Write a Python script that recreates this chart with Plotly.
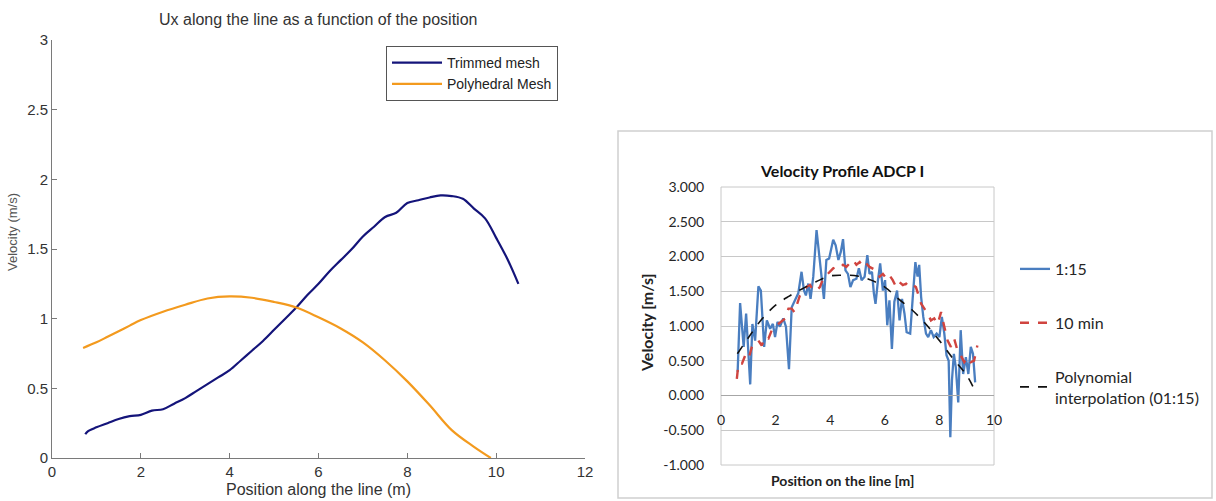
import plotly.graph_objects as go

# ---- Left panel: Ux along the line (CFD meshes) ----
trim_x = [0.75, 0.8, 1.0, 1.25, 1.5, 1.75, 2.0, 2.25, 2.5, 2.75, 3.0, 3.25, 3.5, 3.75,
          4.0, 4.25, 4.5, 4.75, 5.0, 5.25, 5.5, 5.75, 6.0, 6.25, 6.5, 6.75, 7.0, 7.25,
          7.5, 7.75, 8.0, 8.25, 8.5, 8.75, 9.0, 9.25, 9.5, 9.75, 10.0, 10.25, 10.5]
trim_u = [0.17, 0.19, 0.22, 0.25, 0.28, 0.30, 0.31, 0.34, 0.35, 0.39, 0.43, 0.48, 0.53, 0.58,
          0.63, 0.70, 0.77, 0.84, 0.92, 1.00, 1.08, 1.17, 1.25, 1.34, 1.42, 1.50, 1.59, 1.66,
          1.73, 1.76, 1.83, 1.85, 1.87, 1.885, 1.88, 1.86, 1.79, 1.72, 1.58, 1.43, 1.25]

poly_x = [0.7, 1.0, 1.25, 1.5, 1.75, 2.0, 2.5, 3.0, 3.5, 4.0, 4.5, 5.0, 5.5, 6.0, 6.5,
          7.0, 7.5, 8.0, 8.5, 9.0, 9.5, 9.88]
poly_u = [0.79, 0.83, 0.87, 0.91, 0.95, 0.99, 1.05, 1.10, 1.145, 1.16, 1.15, 1.12, 1.08,
          1.01, 0.93, 0.83, 0.70, 0.55, 0.38, 0.20, 0.08, 0.0]

# ---- Right panel: ADCP velocity profile ----
adcp_x = [0.61, 0.70, 0.83, 0.92, 1.07, 1.15, 1.25, 1.37, 1.46, 1.58, 1.68, 1.80, 1.90,
          1.98, 2.07, 2.16, 2.28, 2.38, 2.49, 2.59, 2.71, 2.83, 2.95, 3.04, 3.11, 3.20,
          3.28, 3.38, 3.50, 3.60, 3.68, 3.77, 3.86, 3.96, 4.11, 4.20, 4.30, 4.39, 4.47,
          4.56, 4.65, 4.74, 4.84, 4.96, 5.05, 5.15, 5.26, 5.36, 5.44, 5.53, 5.60, 5.66,
          5.75, 5.83, 5.93, 6.01, 6.09, 6.17, 6.26, 6.35, 6.45, 6.54, 6.63, 6.72, 6.80,
          6.93, 7.02, 7.12, 7.20, 7.26, 7.33, 7.41, 7.51, 7.59, 7.69, 7.79, 7.90, 8.00,
          8.09, 8.18, 8.26, 8.34, 8.40, 8.46, 8.53, 8.60, 8.69, 8.78, 8.87, 8.97, 9.06,
          9.15, 9.23, 9.31]
adcp_115 = [0.34, 1.33, 0.70, 1.18, 0.16, 1.03, 0.79, 1.57, 1.51, 0.70, 1.08, 0.96, 1.03,
            0.84, 1.06, 0.99, 1.11, 0.99, 0.38, 1.27, 1.37, 1.47, 1.78, 1.51, 1.44, 1.61,
            1.39, 1.71, 2.38, 2.00, 1.66, 1.39, 1.95, 1.97, 2.24, 2.16, 1.95, 2.07, 2.25,
            1.80, 1.75, 1.56, 1.66, 1.68, 1.83, 1.66, 1.71, 2.02, 1.75, 1.78, 1.47, 1.32,
            1.66, 1.90, 1.51, 1.66, 1.01, 1.37, 0.67, 1.35, 1.51, 1.08, 1.39, 1.18, 0.91,
            0.89, 1.39, 1.92, 1.71, 1.88, 1.42, 1.13, 0.89, 0.84, 0.94, 0.84, 0.89, 0.84,
            1.13, 0.89, 0.58, 0.50, -0.60, 0.22, 0.60, 0.41, -0.10, 0.94, 0.31, 0.55, 0.31,
            0.70, 0.60, 0.19]

avg_x = [0.58, 0.64, 0.77, 0.89, 1.01, 1.13, 1.25, 1.37, 1.49, 1.62, 1.74, 1.86, 1.98,
         2.10, 2.22, 2.35, 2.47, 2.59, 2.69, 2.80, 2.89, 3.01, 3.13, 3.26, 3.38, 3.50,
         3.62, 3.74, 3.86, 3.99, 4.11, 4.23, 4.35, 4.47, 4.59, 4.71, 4.84, 4.96, 5.08,
         5.20, 5.32, 5.44, 5.56, 5.69, 5.81, 5.93, 6.06, 6.17, 6.29, 6.42, 6.54, 6.66,
         6.78, 6.90, 7.02, 7.14, 7.24, 7.33, 7.45, 7.57, 7.69, 7.81, 7.94, 8.06, 8.18,
         8.30, 8.42, 8.54, 8.66, 8.78, 8.91, 9.03, 9.15, 9.27, 9.39]
avg_10min = [0.24, 0.46, 0.46, 0.58, 0.53, 0.70, 0.75, 0.79, 0.72, 0.84, 0.82, 0.94, 0.99,
             1.03, 1.08, 1.11, 1.25, 1.25, 1.20, 1.32, 1.44, 1.51, 1.56, 1.59, 1.51, 1.51,
             1.56, 1.68, 1.73, 1.78, 1.83, 1.85, 1.83, 1.88, 1.85, 1.90, 1.95, 1.88, 1.92,
             1.85, 1.90, 1.85, 1.83, 1.80, 1.71, 1.75, 1.68, 1.73, 1.66, 1.56, 1.63, 1.59,
             1.61, 1.56, 1.59, 1.56, 1.44, 1.32, 1.25, 1.18, 1.08, 1.11, 1.03, 1.20, 0.99,
             0.79, 0.70, 0.82, 0.65, 0.58, 0.48, 0.55, 0.48, 0.50, 0.72]

fit_x = [0.6, 1.0, 1.5, 2.0, 2.5, 3.0, 3.5, 4.0, 4.5, 5.0, 5.5, 6.0, 6.5, 7.0, 7.5, 8.0,
         8.5, 9.0, 9.3]
fit_u = [0.60, 0.83, 1.10, 1.30, 1.43, 1.54, 1.64, 1.72, 1.73, 1.72, 1.66, 1.56, 1.39,
         1.23, 1.03, 0.79, 0.53, 0.29, 0.07]

# velocity ticks of the ADCP chart, written with a plain hyphen for negatives
adcp_vel_ticks = [-1.0, -0.5, 0.0, 0.5, 1.0, 1.5, 2.0, 2.5, 3.0]
adcp_vel_labels = ["-1.000", "-0.500", "0.000", "0.500", "1.000", "1.500", "2.000",
                   "2.500", "3.000"]

W, H = 1216, 501


def px(x):
    return x / W


def py(y):
    return 1 - y / H


fig = go.Figure()

fig.add_trace(go.Scatter(x=trim_x, y=trim_u, mode="lines", name="Trimmed mesh",
                         line=dict(color="#14147a", width=2.2, shape="spline"),
                         xaxis="x", yaxis="y", legend="legend"))
fig.add_trace(go.Scatter(x=poly_x, y=poly_u, mode="lines", name="Polyhedral Mesh",
                         line=dict(color="#f39a1e", width=2.2, shape="spline"),
                         xaxis="x", yaxis="y", legend="legend"))

fig.add_trace(go.Scatter(x=adcp_x, y=adcp_115, mode="lines", name="1:15",
                         line=dict(color="#4a7ec0", width=2.3),
                         xaxis="x2", yaxis="y2", legend="legend2", legendgroup="a"))
fig.add_trace(go.Scatter(x=avg_x, y=avg_10min, mode="lines", name="10 min",
                         line=dict(color="#d0443f", width=2.4, dash="dash"),
                         xaxis="x2", yaxis="y2", legend="legend2", legendgroup="b"))
fig.add_trace(go.Scatter(x=fit_x, y=fit_u, mode="lines",
                         name="Polynomial<br>interpolation (01:15)",
                         line=dict(color="#111111", width=1.6, dash="dash", shape="spline"),
                         xaxis="x2", yaxis="y2", legend="legend2", legendgroup="c"))

LEFT_FAMILY = "Liberation Sans, Arial, sans-serif"
RIGHT_FAMILY = "Lato, Open Sans, sans-serif"
left_tick = dict(family=LEFT_FAMILY, size=15, color="#333333")
left_text = dict(family=LEFT_FAMILY, size=16, color="#333333")
right_tick = dict(family=RIGHT_FAMILY, size=14, color="#262626")

fig.update_layout(
    width=W, height=H,
    margin=dict(l=0, r=0, t=0, b=0),
    paper_bgcolor="white", plot_bgcolor="rgba(0,0,0,0)",
    showlegend=True,
    xaxis=dict(domain=[px(52), px(585)], range=[0, 12], dtick=2, anchor="y",
               automargin=False,
               showgrid=False, zeroline=False, showline=True, linecolor="#7a7a7a",
               linewidth=1, ticks="inside", ticklen=5, tickcolor="#7a7a7a",
               tickfont=left_tick,
               title=dict(text="Position along the line (m)", font=left_text, standoff=4)),
    yaxis=dict(domain=[py(458), py(40)], range=[0, 3], dtick=0.5, anchor="x",
               automargin=False,
               showgrid=False, zeroline=False, showline=True, linecolor="#7a7a7a",
               linewidth=1, ticks="inside", ticklen=5, tickcolor="#7a7a7a",
               tickfont=left_tick),
    xaxis2=dict(domain=[px(721), px(994)], range=[0, 10], dtick=2, anchor="free",
                position=py(395), automargin=False, showgrid=False, zeroline=False,
                showline=True, linecolor="#a6a6a6", linewidth=1,
                ticks="outside", ticklen=12, tickcolor="rgba(0,0,0,0)",
                tickfont=right_tick),
    yaxis2=dict(domain=[py(465), py(187)], range=[-1, 3],
                tickmode="array", tickvals=adcp_vel_ticks, ticktext=adcp_vel_labels,
                anchor="x2", automargin=False, showgrid=True, gridcolor="#c8c8c8",
                gridwidth=1, zeroline=False, showline=False,
                ticks="outside", ticklen=13, tickcolor="rgba(0,0,0,0)",
                tickfont=right_tick),
    legend=dict(x=px(386), y=py(46), xanchor="left", yanchor="top",
                bgcolor="white", bordercolor="#555555", borderwidth=1,
                font=dict(family=LEFT_FAMILY, size=14, color="#222222"),
                itemwidth=50, tracegroupgap=0),
    legend2=dict(x=px(1015), y=py(252), xanchor="left", yanchor="top",
                 bgcolor="rgba(0,0,0,0)", borderwidth=0,
                 font=dict(family=RIGHT_FAMILY, size=16, color="#262626"),
                 itemwidth=30, traceorder="grouped", tracegroupgap=30),
    shapes=[
        dict(type="rect", xref="paper", yref="paper", x0=px(618), x1=px(1212),
             y0=py(498), y1=py(131), line=dict(color="#d0d0d0", width=1.5),
             layer="below"),
        dict(type="rect", xref="paper", yref="paper", x0=px(721), x1=px(994),
             y0=py(465), y1=py(187), line=dict(color="#c8c8c8", width=1),
             layer="below"),
    ],
    annotations=[
        dict(text="Ux along the line as a function of the position", xref="paper",
             yref="paper", x=px(318), y=py(19), showarrow=False,
             xanchor="center", yanchor="middle", font=left_text),
        dict(text="Velocity (m/s)", xref="paper", yref="paper", x=px(12), y=py(232),
             showarrow=False, textangle=-90, xanchor="center", yanchor="middle",
             font=dict(family=LEFT_FAMILY, size=13, color="#555555")),
        dict(text="<b>Velocity Profile ADCP I</b>", xref="paper", yref="paper",
             x=px(842), y=py(170), showarrow=False, xanchor="center", yanchor="middle",
             font=dict(family=RIGHT_FAMILY, size=16, color="#111111")),
        dict(text="<b>Velocity [m/s]</b>", xref="paper", yref="paper",
             x=px(646), y=py(323), showarrow=False, textangle=-90,
             xanchor="center", yanchor="middle",
             font=dict(family=RIGHT_FAMILY, size=16, color="#222222")),
        dict(text="<b>Position on the line [m]</b>", xref="paper", yref="paper",
             x=px(842), y=py(480), showarrow=False, xanchor="center", yanchor="middle",
             font=dict(family=RIGHT_FAMILY, size=14, color="#222222")),
    ],
)

fig.write_html("out.html")
